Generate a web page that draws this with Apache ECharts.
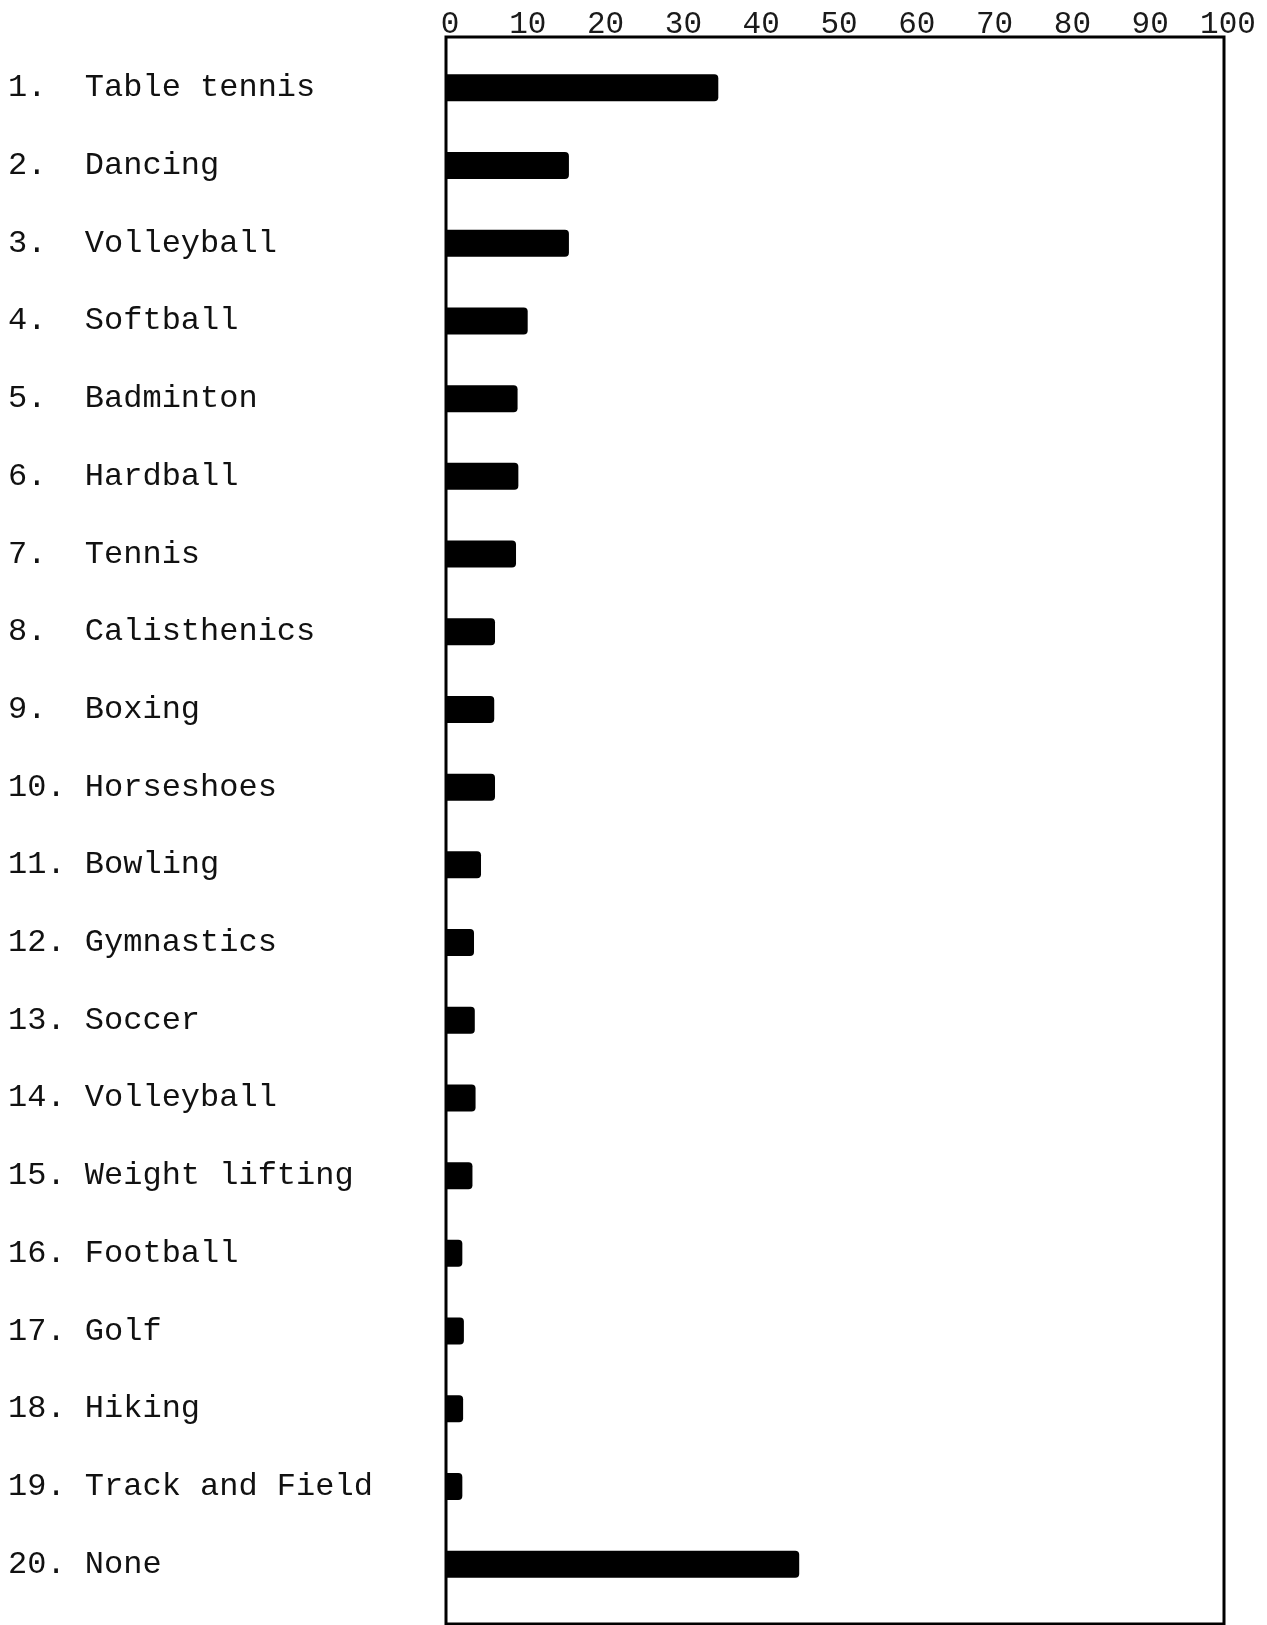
<!DOCTYPE html>
<html>
<head>
<meta charset="utf-8">
<script src="https://cdn.jsdelivr.net/npm/echarts@6/dist/echarts.min.js"></script>
<style>
html,body{margin:0;padding:0;background:#fff;}
#chart{width:1267px;height:1625px;}
</style>
</head>
<body>
<div id="chart"></div>
<script>
var ranks = ["1.", "2.", "3.", "4.", "5.", "6.", "7.", "8.", "9.", "10.", "11.", "12.", "13.", "14.", "15.", "16.", "17.", "18.", "19.", "20."];
var activities = ["Table tennis", "Dancing", "Volleyball", "Softball", "Badminton", "Hardball", "Tennis", "Calisthenics", "Boxing", "Horseshoes", "Bowling", "Gymnastics", "Soccer", "Volleyball", "Weight lifting", "Football", "Golf", "Hiking", "Track and Field", "None"];
var percents = [35.0, 15.8, 15.8, 10.5, 9.2, 9.3, 9.0, 6.3, 6.2, 6.3, 4.5, 3.6, 3.7, 3.8, 3.4, 2.1, 2.3, 2.2, 2.1, 45.4];
var xTicks = [0, 10, 20, 30, 40, 50, 60, 70, 80, 90, 100];

function pad(s, n) { while (s.length < n) s += " "; return s; }
var labels = activities.map(function (a, i) { return pad(ranks[i], 4) + a; });

var chart = echarts.init(document.getElementById('chart'));
var mono = '"Liberation Mono", "DejaVu Sans Mono", monospace';
chart.setOption({
  backgroundColor: '#ffffff',
  animation: false,
  grid: [
    { left: 446, right: 43, top: 37, bottom: 1, show: true, borderColor: '#000', borderWidth: 3, backgroundColor: 'transparent' },
    { left: 446, right: 43, top: 49, bottom: 22 }
  ],
  xAxis: [
    {
      gridIndex: 0, type: 'value', position: 'top',
      min: xTicks[0], max: xTicks[xTicks.length - 1], interval: 10,
      axisLine: { show: false }, axisTick: { show: false }, splitLine: { show: false },
      axisLabel: {
        show: true, margin: -3, fontFamily: mono, fontSize: 31, color: '#1a1a1a',
        showMinLabel: true, showMaxLabel: true, padding: [0, 0, 0, 8]
      }
    },
    {
      gridIndex: 1, type: 'value', min: 0, max: 100, show: false
    }
  ],
  yAxis: [
    { gridIndex: 0, type: 'value', show: false },
    {
      gridIndex: 1, type: 'category', inverse: true, data: labels,
      axisLine: { show: false }, axisTick: { show: false }, splitLine: { show: false },
      axisLabel: {
        align: 'left', margin: 438, fontFamily: mono, fontSize: 32, color: '#111',
        interval: 0
      }
    }
  ],
  series: [
    {
      type: 'bar', xAxisIndex: 1, yAxisIndex: 1, data: percents,
      barWidth: 27,
      itemStyle: { color: '#000', borderRadius: [0, 4, 4, 0] }
    }
  ]
});
</script>
</body>
</html>
